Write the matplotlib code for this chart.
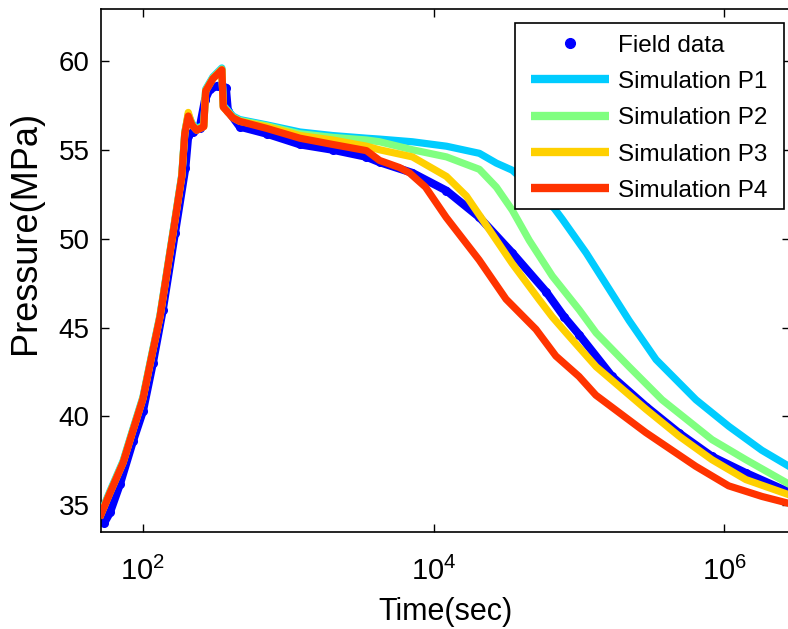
import matplotlib
matplotlib.use("Agg")
import matplotlib.pyplot as plt
from matplotlib.ticker import FixedLocator, NullLocator, FixedFormatter
from matplotlib.lines import Line2D
from matplotlib.patches import Rectangle

plt.rcParams['font.family'] = ['Liberation Sans', 'DejaVu Sans']
plt.rcParams['mathtext.fontset'] = 'custom'
plt.rcParams['mathtext.rm'] = 'Liberation Sans'
plt.rcParams['mathtext.it'] = 'Liberation Sans:italic'

# ---- data (time in seconds, pressure in MPa) ----
early_time = [51.5, 59.3, 73, 85.3, 100, 117, 131, 161, 185, 194, 205, 217, 234, 262,
              270, 303, 349, 357, 415, 463, 711]
early_p4 = [34.5, 35.7, 37.4, 39.2, 41.0, 43.7, 45.6, 50.3, 53.5, 55.9, 56.9, 56.4, 56.1, 56.3,
            58.3, 59.0, 59.5, 57.4, 56.8, 56.6, 56.2]

field_time = [54, 59.3, 69.5, 85.3, 100, 117, 137, 166, 196, 205, 220, 245, 267, 288, 327,
              372, 384, 463, 711, 1202, 2018, 3451, 4246, 7145, 12250, 20640, 34750,
              59600, 79100, 100300, 169000, 289700, 487500, 822000, 1407000, 2780000]
field_p = [34.0, 34.6, 36.2, 38.6, 40.3, 43.0, 46.0, 50.3, 54.0, 55.8, 56.0, 56.2, 57.8, 58.4,
           58.6, 58.5, 57.2, 56.3, 55.9, 55.3, 55.0, 54.6, 54.3, 53.7, 52.7, 51.2, 49.2,
           47.0, 45.6, 44.6, 42.25, 40.56, 39.07, 37.75, 36.82, 35.75]

late_time_p1 = [1202, 2018, 3451, 4246, 7145, 12250, 20640, 27000, 34750, 45500, 67600,
                76700, 112000, 169000, 221000, 339000, 638000, 1076000, 1810000, 2780000]
late_p1 = [56.0, 55.8, 55.65, 55.6, 55.45, 55.2, 54.8, 54.25, 53.85, 53.0, 51.7,
           51.1, 49.2, 46.9, 45.4, 43.2, 40.94, 39.44, 38.1, 37.2]

late_time_p2 = [1202, 2018, 3451, 4246, 7145, 12250, 20640, 27000, 34750, 45500, 65500,
                100300, 131200, 221000, 372700, 822000, 1407000, 2780000]
late_p2 = [55.9, 55.7, 55.55, 55.45, 55.0, 54.6, 53.9, 52.9, 51.6, 49.9, 47.9,
           46.0, 44.7, 42.8, 40.94, 38.7, 37.57, 36.2]

late_time_p3 = [1202, 2018, 3451, 4246, 7145, 12250, 16790, 24180, 34750, 53300, 65500,
                81700, 131200, 289700, 487500, 822000, 1407000, 2780000]
late_p3 = [55.8, 55.55, 55.2, 55.0, 54.6, 53.5, 52.4, 50.5, 48.6, 46.56, 45.6,
           44.7, 42.8, 40.4, 38.9, 37.57, 36.45, 35.6]

late_time_p4 = [1202, 2018, 3451, 4246, 5821, 6823, 8790, 12190, 20560, 31480, 50580,
                69340, 100000, 130600, 287700, 635300, 1070000, 1820000, 2820000]
late_p4 = [55.65, 55.3, 54.95, 54.4, 54.0, 53.7, 52.9, 51.2, 48.8, 46.6, 44.9,
           43.4, 42.25, 41.2, 39.1, 37.2, 36.1, 35.5, 35.1]

peak_p3 = 57.1  # P3 first peak slightly higher

labels = ['Field data', 'Simulation P1', 'Simulation P2', 'Simulation P3', 'Simulation P4']
colors = ['#0000FF', '#00CCFF', '#80FF80', '#FFD000', '#FF3300']

# build simulation series
t_p1 = early_time + late_time_p1
p_p1 = [v + 0.1 for v in early_p4[:-1]] + [56.4] + late_p1
t_p2 = early_time + late_time_p2
p_p2 = [v + 0.05 for v in early_p4[:-1]] + [56.35] + late_p2
t_p3 = early_time + late_time_p3
p_p3 = list(early_p4[:-1]) + [56.3] + late_p3
p_p3[10] = peak_p3
t_p4 = early_time + late_time_p4
p_p4 = list(early_p4) + late_p4

# ---- figure ----
W, H = 788, 629
fig = plt.figure(figsize=(W / 100, H / 100), dpi=100)
ax = fig.add_axes([100.7 / W, 1 - 531.7 / H, (790 - 100.7) / W, (531.7 - 9.3) / H])

ax.plot(field_time, field_p, '-', color=colors[0], lw=5.8, solid_capstyle='round', zorder=2)
ax.plot(field_time, field_p, 'o', color=colors[0], ms=5.5, zorder=2)
lw = 5.2
ax.plot(t_p1, p_p1, color=colors[1], lw=lw, zorder=3)
ax.plot(t_p2, p_p2, color=colors[2], lw=lw, zorder=4)
ax.plot(t_p3, p_p3, color=colors[3], lw=lw, zorder=5)
ax.plot(t_p4, p_p4, color=colors[4], lw=lw, zorder=6)

ax.set_xscale('log')
ax.set_xlim(51.2, 2.83e6)
ax.set_ylim(33.52, 62.9)

ax.xaxis.set_major_locator(FixedLocator([1e2, 1e4, 1e6]))
ax.xaxis.set_major_formatter(FixedFormatter([r'$10^{2}$', r'$10^{4}$', r'$10^{6}$']))
ax.xaxis.set_minor_locator(NullLocator())
ax.set_yticks([35, 40, 45, 50, 55, 60])

ax.tick_params(axis='both', which='major', direction='in', length=6, width=1,
               labelsize=20, top=True, right=True, color='black')
ax.tick_params(axis='y', pad=8)
ax.tick_params(axis='x', pad=18, labelsize=21)
for s in ax.spines.values():
    s.set_linewidth(1.2)

ax.set_xlabel('Time(sec)', fontsize=22, labelpad=8)
ax.set_ylabel('Pressure(MPa)', fontsize=26)
ax.yaxis.set_label_coords((43 - 100.7) / 689.3, (531.7 - 232) / 522.4)

# legend frame (drawn as a rectangle) and legend content
fig.add_artist(Rectangle((514.7 / W, 1 - 209 / H), (784.3 - 514.7) / W, (209 - 22.7) / H,
                         transform=fig.transFigure, facecolor='white', edgecolor='black',
                         lw=1.2, zorder=9))
handles = [Line2D([], [], ls='none', marker='o', color=colors[0], ms=7)]
for c in colors[1:]:
    handles.append(Line2D([], [], color=c, lw=6, solid_capstyle='butt'))
leg = fig.legend(handles, labels, loc='upper left', bbox_to_anchor=(531 / W, 1 - 34.5 / H),
                 bbox_transform=fig.transFigure, fontsize=17.5, frameon=False,
                 handlelength=3.2, handletextpad=0.38, labelspacing=0.59,
                 borderpad=0, borderaxespad=0)
leg.set_zorder(10)

fig.savefig('out.png', dpi=100)
